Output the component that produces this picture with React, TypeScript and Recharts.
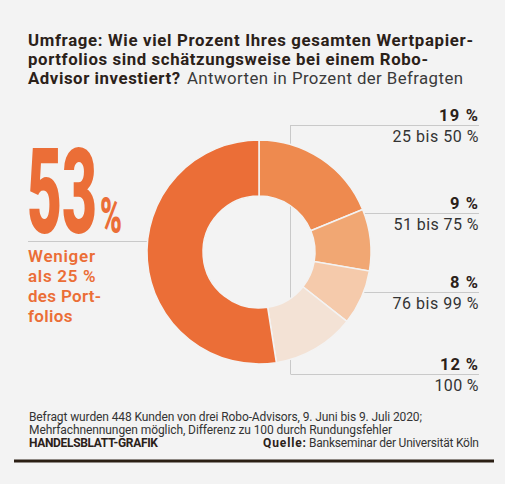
import React from 'react';
import { PieChart, Pie, Cell } from 'recharts';

const categories = ['25 bis 50 %', '51 bis 75 %', '76 bis 99 %', '100 %', 'Weniger als 25 %'];
const values = [19, 9, 8, 12, 53];
const colors = ['#ee8a4f', '#f1a773', '#f5caab', '#f3e2d5', '#eb6e37'];

const titleLines = [
  'Umfrage: Wie viel Prozent Ihres gesamten Wertpapier-',
  'portfolios sind schätzungsweise bei einem Robo-',
  'Advisor investiert?',
];
const subtitle = 'Antworten in Prozent der Befragten';
const mainLabelLines = ['Weniger', 'als 25 %', 'des Port-', 'folios'];
const noteLines = [
  'Befragt wurden 448 Kunden von drei Robo-Advisors, 9. Juni bis 9. Juli 2020;',
  'Mehrfachnennungen möglich, Differenz zu 100 durch Rundungsfehler',
];
const credit = 'HANDELSBLATT-GRAFIK';
const sourceLabel = 'Quelle:';
const sourceText = 'Bankseminar der Universität Köln';

const data = categories.map((name, i) => ({ name, value: values[i] }));

const BG = '#f3f3f3';
const DARK = '#2b2119';
const ORANGE = '#eb6e37';
const LINE = '#c9c9c9';
const FONT = 'Roboto, "Liberation Sans", sans-serif';

const rightLabelY = [125, 213, 292, 374];
const valueWidths = [39, 28, 28, 38];
const catWidths = [86, 85, 86, 44];
const mainLabelWidths = [67, 67.5, 73, 44.5];

export default function App() {
  return (
    <div style={{ position: 'absolute', left: 0, top: 0, width: 505, height: 484, background: BG, overflow: 'hidden' }}>
      <svg width={505} height={484} style={{ position: 'absolute', left: 0, top: 0 }} fontFamily={FONT}>
        {/* title */}
        <text x={28} y={45.5} fontSize={16.8} fontWeight={700} fill={DARK} textLength={445} lengthAdjust="spacing">{titleLines[0]}</text>
        <text x={28} y={64.5} fontSize={16.8} fontWeight={700} fill={DARK} textLength={400} lengthAdjust="spacing">{titleLines[1]}</text>
        <text x={28} y={83.5} fontSize={16.8} fontWeight={700} fill={DARK} textLength={152} lengthAdjust="spacing">{titleLines[2]}</text>
        <text x={187} y={83.5} fontSize={16.8} fontWeight={400} fill="#3a3a3a" textLength={276} lengthAdjust="spacing">{subtitle}</text>

        {/* connector lines */}
        <line x1={28} y1={241.5} x2={160} y2={241.5} stroke={LINE} strokeWidth={1} />
        <line x1={290.5} y1={125} x2={290.5} y2={374} stroke={LINE} strokeWidth={1} />
        {rightLabelY.map((y, i) => (
          <line key={i} x1={i === 0 || i === 3 ? 290.5 : 300} y1={y + 0.5} x2={479} y2={y + 0.5} stroke={LINE} strokeWidth={1} />
        ))}

        {/* big number */}
        <text x={27} y={233} fontSize={118} fontWeight={900} fill={ORANGE} textLength={70} lengthAdjust="spacingAndGlyphs">{values[4]}</text>
        <text x={100} y={233} fontSize={50} fontWeight={900} fill={ORANGE} textLength={22} lengthAdjust="spacingAndGlyphs">%</text>
        {mainLabelLines.map((t, i) => (
          <text key={i} x={28} y={262 + i * 20} fontSize={17} fontWeight={600} fill={ORANGE} textLength={mainLabelWidths[i]} lengthAdjust="spacing">{t}</text>
        ))}

        {/* right labels */}
        {rightLabelY.map((y, i) => (
          <g key={i}>
            <text x={478} y={y - 4.5} fontSize={16.5} fontWeight={700} fill={DARK} textAnchor="end" textLength={valueWidths[i]} lengthAdjust="spacing">{values[i]} %</text>
            <text x={478.5} y={y + 16.5} fontSize={16} fontWeight={400} fill="#333" textAnchor="end" textLength={catWidths[i]} lengthAdjust="spacing">{categories[i]}</text>
          </g>
        ))}

        {/* footer */}
        <text x={29} y={420.5} fontSize={12} fill="#333" textLength={393} lengthAdjust="spacing">{noteLines[0]}</text>
        <text x={29} y={433.5} fontSize={12} fill="#333" textLength={363} lengthAdjust="spacing">{noteLines[1]}</text>
        <text x={29} y={447} fontSize={12} fontWeight={700} fill={DARK} textLength={129} lengthAdjust="spacing">{credit}</text>
        <text x={263} y={447} fontSize={12} fontWeight={700} fill={DARK} textLength={43} lengthAdjust="spacing">{sourceLabel}</text>
        <text x={479} y={447} fontSize={12} fill="#333" textAnchor="end" textLength={170} lengthAdjust="spacing">{sourceText}</text>
        <rect x={14} y={459.5} width={480} height={3} fill="#2b1f14" />
      </svg>
      <div style={{ position: 'absolute', left: 0, top: 0 }}>
        <PieChart width={505} height={484}>
          <Pie
            data={data}
            dataKey="value"
            nameKey="name"
            cx={254}
            cy={247}
            innerRadius={56}
            outerRadius={112}
            startAngle={90}
            endAngle={-270}
            stroke={BG}
            strokeWidth={1.5}
            isAnimationActive={false}
          >
            {data.map((d, i) => (
              <Cell key={d.name} fill={colors[i]} />
            ))}
          </Pie>
        </PieChart>
      </div>
    </div>
  );
}
